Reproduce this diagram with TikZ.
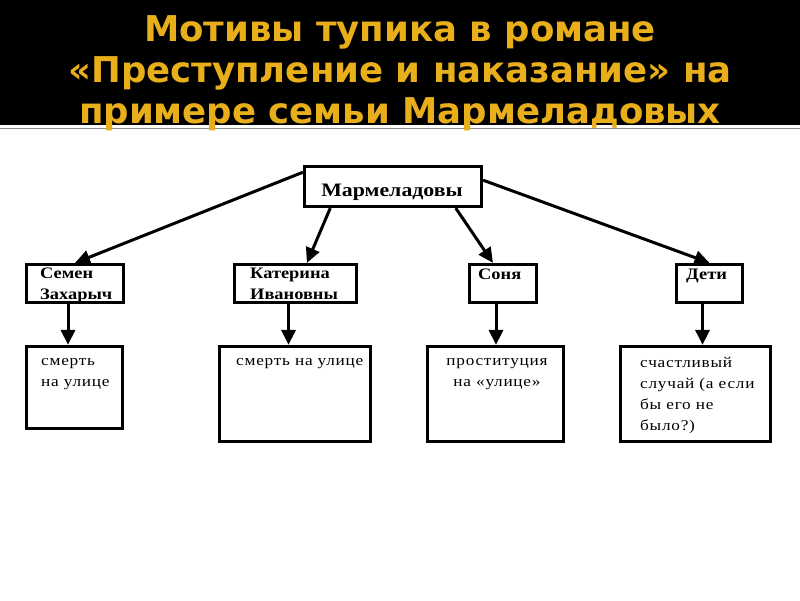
\documentclass[tikz,border=0pt]{standalone}
\usepackage{fontspec}
\setmainfont[FakeStretch=1.15]{Liberation Serif}
\newfontfamily\notefont[FakeStretch=1.15,LetterSpace=5]{Liberation Serif}
\newfontfamily\titlefont{DejaVu Sans}
\usetikzlibrary{arrows.meta,calc}
\definecolor{mgold}{HTML}{E8AF1B}
\definecolor{mgray}{HTML}{8C8C8C}

\begin{document}
\begin{tikzpicture}[x=1pt,y=-1pt,
    box/.style={draw,line width=3.2pt,inner sep=0pt},
    head/.style={font=\fontsize{16}{21}\selectfont\bfseries,inner sep=0pt,anchor=base west,align=left},
    note/.style={font=\notefont\fontsize{15}{21}\selectfont,inner sep=0pt,anchor=base west,align=left},
    arrow/.style={line width=3pt,-{Triangle[length=15pt,width=14pt]}},
    title/.style={font=\titlefont\fontsize{35.5}{40}\selectfont\bfseries,text=mgold,inner sep=0pt,anchor=base}
  ]
  \useasboundingbox[fill=white] (0,0) rectangle (800,600);
  % header band
  \fill[black] (0,0) rectangle (800,125);
  \draw[mgray,line width=1.5pt] (0,128.5) -- (800,128.5);
  \node[title] (title1) at (400,41) {Мотивы тупика в романе};
  \node[title] (title2) at (400,82) {«Преступление и наказание» на};
  \node[title] (title3) at (400,123) {примере семьи Мармеладовых};

  % family tree
  \node[box,minimum width=177pt,minimum height=40pt] (marm) at (393,186.5) {};
  \node[font=\fontsize{19}{22}\selectfont\bfseries,inner sep=0pt,anchor=base] (marmTxt) at (392,196) {Мармеладовы};

  \node[box,minimum width=97pt,minimum height=38pt] (semen) at (75,283.5) {};
  \node[box,minimum width=122pt,minimum height=38pt] (katerina) at (295.5,283.5) {};
  \node[box,minimum width=67pt,minimum height=38pt] (sonya) at (503,283.5) {};
  \node[box,minimum width=66pt,minimum height=38pt] (deti) at (709.5,283.5) {};
  % multi-line nodes sit on the baseline of their last line
  \node[head] (semenTxt) at (40,299) {Семен\\Захарыч};
  \node[head] (katerinaTxt) at (250,299) {Катерина\\Ивановны};
  \node[head] (sonyaTxt) at (478,279) {Соня};
  \node[head] (detiTxt) at (686,279) {Дети};

  \node[box,minimum width=96pt,minimum height=82pt] (semenEnd) at (74.5,387.5) {};
  \node[box,minimum width=151pt,minimum height=95pt] (katerinaEnd) at (295,394) {};
  \node[box,minimum width=136pt,minimum height=95pt] (sonyaEnd) at (495.5,394) {};
  \node[box,minimum width=150pt,minimum height=95pt] (detiEnd) at (695.5,394) {};
  \node[note] (semenNote) at (41,386) {смерть\\на улице};
  \node[note] (katerinaNote) at (236,365) {смерть на улице};
  \node[note,align=center,anchor=base] (sonyaNote) at (497,386) {проституция\\на «улице»};
  \node[note] (detiNote) at (640,430) {счастливый\\случай (а если\\бы его не\\было?)};

  \draw[arrow] (marm.171) -- (semen.north);
  \draw[arrow] (marm.199) -- (katerina.61);
  \draw[arrow] (marm.341) -- (sonya.116);
  \draw[arrow] (marm.4) -- (deti.north);
  \foreach \up/\down in {semen/semenEnd,katerina/katerinaEnd,sonya/sonyaEnd,deti/detiEnd}
    \draw[arrow] ([xshift=-7pt]\up.south) -- ([xshift=-7pt]\up.south |- \down.north);
\end{tikzpicture}
\end{document}
